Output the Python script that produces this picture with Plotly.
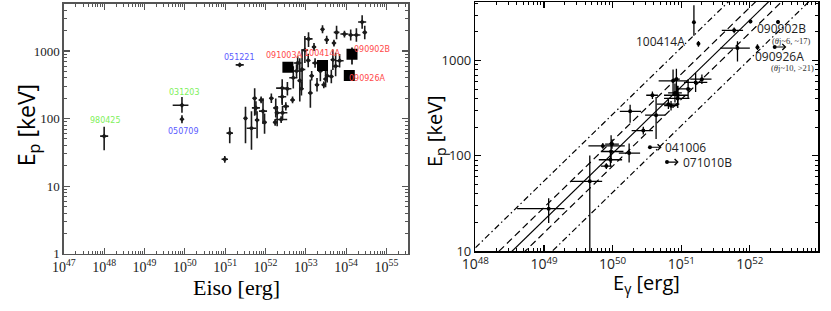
import numpy as np
import plotly.graph_objects as go

# ---------------- Left panel data (Eiso [erg], Ep [keV]) ----------------
eiso = [9.8e50, 1.3e51, 3.2e51, 4.5e51, 5.4e51, 5.8e51, 6.2e51, 7.8e51, 8.7e51, 9.5e51,
        1.4e52, 1.8e52, 1.95e52, 1.74e52, 2.6e52, 2.6e52, 2.65e52, 2.45e52, 3.2e52, 3.5e52,
        4.7e52, 4.9e52, 5.9e52, 6.3e52, 7.1e52, 7.8e52, 8.1e52, 9.5e52, 1.15e53, 1.17e53,
        1.4e53, 1.6e53, 1.3e53, 1.7e53, 1.9e53, 2.6e53, 3.3e53, 2.3e53, 2.8e53, 3.1e53,
        5.0e53, 5.8e53, 4.7e53, 5.5e53, 6.9e53, 9.1e53, 1.3e54, 1.8e54, 2.5e54, 2.9e54,
        3.4e53, 4.3e53]
ep_iso = [25, 61, 101, 72, 200, 144, 95, 189, 129, 88,
          200, 144, 122, 88, 283, 211, 122, 97, 152, 277,
          189, 403, 507, 667, 365, 277, 535, 1033, 727, 1515,
          430, 1150, 240, 667, 316, 2100, 1467, 507, 316, 385,
          1315, 1890, 744, 597, 720, 1786, 1730, 1730, 2690, 1890,
          430, 420]
# errors in dex
ep_lo_dex = [.05, .15, .37, .32, .26, .1, .27, .05, .19, .17,
             .07, .14, .2, .05, .25, .1, .1, .05, .06, .1,
             .05, .16, .1, .1, .31, .1, .3, .19, .1, .12,
             .07, .06, .22, .07, .1, .06, .06, .15, .05, .12,
             .05, .1, .15, .15, .1, .05, .08, .1, .1, .1,
             .1, .1]
ep_hi_dex = [.05, .086, .17, .25, .15, .1, .13, .05, .19, .13,
             .07, .14, .1, .05, .13, .1, .1, .05, .06, .1,
             .05, .17, .1, .1, .33, .1, .3, .21, .1, .1,
             .07, .06, .2, .07, .1, .06, .06, .15, .05, .12,
             .05, .1, .15, .2, .1, .05, .08, .1, .1, .1,
             .1, .1]
eiso_err_dex = [.08, .08, .03, .12, .05, .1, .05, .06, .1, .05,
                .05, .06, .06, .05, .15, .1, .12, .15, .08, .1,
                .05, .1, .15, .1, .05, .05, .08, .08, .05, .1,
                .05, .05, .05, .07, .05, .03, .05, .05, .05, .05,
                .03, .07, .05, .08, .1, .1, .05, .1, .1, .05,
                .05, .05]

# highlighted GRBs (left)
green_names = ["980425", "031203"]
green_eiso = [1e48, 8.5e49]
green_ep = [55, 158]
green_ep_lo = [.21, .11]
green_ep_hi = [.14, .12]
green_e_lo = [.1, .23]
green_e_hi = [.1, .16]

blue_names = ["050709", "051221"]
blue_eiso = [8.5e49, 2.3e51]
blue_ep = [98, 624]
blue_ep_err = [.06, .02]
blue_e_err = [.02, .1]

red_names = ["091003A", "100414A", "090902B", "090926A"]
red_eiso = [3.6e52, 2.6e53, 1.4e54, 1.2e54]
red_ep = [578, 611, 896, 435]
red_ep_lo = [0, 0, .15, 0]
red_ep_hi = [0, 0, .1, 0]

# ---------------- Right panel data (Egamma [erg], Ep [keV]) ----------------
egam = [1.17e49, 4.65e49, 7.2e49, 8.1e49, 9.3e49, 9.5e49, 9.8e49, 1.74e50, 1.8e50, 2.8e50,
        3.8e50, 4.3e50, 6.5e50, 7.1e50, 7.6e50, 8.1e50, 8.5e50, 8.9e50, 8.9e50, 1.26e51,
        1.62e51, 2.0e51, 1.53e51, 1.78e51, 5.9e51, 6.6e51, 1.02e52, 1.29e52, 2.57e52]
ep_g = [27.9, 54, 127, 78, 91, 111, 133, 107, 293, 184,
        432, 267, 348, 336, 612, 457, 637, 432, 400, 504,
        589, 637, 2518, 1496, 2075, 1352, 2570, 1380, 2540]
eg_lo_dex = [.46, .28, .21, .08, .17, .15, .1, .15, .15, .17,
             .09, .16, .17, .1, .21, .1, .05, .2, .2, .15,
             .17, .17, 0, .02, .18, .25, .02, .02, .02]
eg_hi_dex = [.23, .18, .32, .08, .17, .18, .1, .16, .16, .14,
             .08, .13, .16, .1, .22, .1, .05, .15, .17, .05,
             .17, .14, 0, .02, .13, .18, .02, .02, .02]
epg_lo_dex = [.15, .9, .03, .03, .07, .12, .05, .1, .12, .04,
              .04, .25, .05, .05, .15, .1, .17, .1, .1, .1,
              .1, .05, .14, .03, .03, .14, .02, .03, .02]
epg_hi_dex = [.11, .27, .03, .03, .07, .17, .05, .1, .07, .04,
              .04, .19, .05, .05, .12, .1, .11, .1, .13, .1,
              .1, .05, .18, .03, .03, .07, .02, .03, .02]

# lower limits on Egamma
lim_names = ["041006", "071010B", "090926A"]
lim_eg = [3.5e50, 6.2e50, 2.3e52]
lim_ep = [123, 86, 1387]
lim_arrow_dex = 0.17

# Ghirlanda-type relation: Ep = norm * (Eg/1e50)^slope, with scatter bands (dex)
rel_norm = 106.0
rel_slope = 0.70
band_inner = 0.133
band_outer = 0.41

# ---------------- helpers ----------------
def errs(vals, lo, hi):
    v = np.array(vals, float)
    return (v * (10 ** np.array(hi) - 1)).tolist(), (v * (1 - 10 ** -np.array(lo))).tolist()

fig = go.Figure()

LEFT_C = "#1a1a1a"

def left_trace(x, y, elo, ehi, xlo, xhi):
    eyp, eym = errs(y, elo, ehi)
    exp_, exm = errs(x, xlo, xhi)
    return go.Scatter(x=x, y=y, mode="markers", xaxis="x", yaxis="y",
                      marker=dict(color=LEFT_C, size=4, symbol="diamond"),
                      error_y=dict(type="data", array=eyp, arrayminus=eym, thickness=1.6, width=0, color=LEFT_C),
                      error_x=dict(type="data", array=exp_, arrayminus=exm, thickness=1.6, width=0, color=LEFT_C),
                      showlegend=False)

fig.add_trace(left_trace(eiso, ep_iso, ep_lo_dex, ep_hi_dex, eiso_err_dex, eiso_err_dex))
fig.add_trace(left_trace(green_eiso, green_ep, green_ep_lo, green_ep_hi, green_e_lo, green_e_hi))
fig.add_trace(left_trace(blue_eiso, blue_ep, blue_ep_err, blue_ep_err, blue_e_err, blue_e_err))

eyp, eym = errs(red_ep, red_ep_lo, red_ep_hi)
fig.add_trace(go.Scatter(x=red_eiso, y=red_ep, mode="markers", xaxis="x", yaxis="y",
                         marker=dict(color="black", size=11, symbol="square"),
                         error_y=dict(type="data", array=eyp, arrayminus=eym, thickness=1.6, width=0, color="black"),
                         showlegend=False))

# right relation lines
xr = np.array([1e48, 1e53])
for off, dash in [(0, "solid"), (band_inner, "7px,4px"), (-band_inner, "7px,4px"),
                  (band_outer, "6px,3px,1.5px,3px"), (-band_outer, "6px,3px,1.5px,3px")]:
    yr = rel_norm * (xr / 1e50) ** rel_slope * 10 ** off
    fig.add_trace(go.Scatter(x=xr, y=yr, mode="lines", xaxis="x2", yaxis="y2",
                             line=dict(color="black", width=1.2, dash=dash),
                             showlegend=False, hoverinfo="skip"))

# right points
eyp, eym = errs(ep_g, epg_lo_dex, epg_hi_dex)
exp_, exm = errs(egam, eg_lo_dex, eg_hi_dex)
fig.add_trace(go.Scatter(x=egam, y=ep_g, mode="markers", xaxis="x2", yaxis="y2",
                         marker=dict(color="black", size=4),
                         error_y=dict(type="data", array=eyp, arrayminus=eym, thickness=1.3, width=0, color="black"),
                         error_x=dict(type="data", array=exp_, arrayminus=exm, thickness=1.3, width=0, color="black"),
                         showlegend=False))
fig.add_trace(go.Scatter(x=lim_eg, y=lim_ep, mode="markers", xaxis="x2", yaxis="y2",
                         marker=dict(color="black", size=4), showlegend=False))

annotations = []
for xe, ye in zip(lim_eg, lim_ep):
    annotations.append(dict(x=np.log10(xe) + lim_arrow_dex, y=np.log10(ye), ax=np.log10(xe), ay=np.log10(ye),
                            xref="x2", yref="y2", axref="x2", ayref="y2", text="", showarrow=True,
                            arrowhead=4, arrowsize=1, arrowwidth=1.2, arrowcolor="black"))

left_labels = [("980425", 48.03, 1.967, "#7ef05a"), ("031203", 49.98, 2.381, "#7ef05a"),
               ("050709", 49.97, 1.81, "#5b5bff"), ("051221", 51.36, 2.9, "#5b5bff"),
               ("091003A", 52.46, 2.93, "#ff4a4a"), ("100414A", 53.42, 2.957, "#ff4a4a"),
               ("090902B", 54.65, 3.024, "#ff4a4a"), ("090926A", 54.54, 2.596, "#ff4a4a")]
for t, lx, ly, c in left_labels:
    annotations.append(dict(x=lx, y=ly, xref="x", yref="y", text=t, showarrow=False,
                            xanchor="center", yanchor="middle",
                            font=dict(family="DejaVu Sans", size=8, color=c)))

rfont = dict(family="Open Sans", size=12, color="#222")
sfont = dict(family="Liberation Serif", size=8.5, color="#333")
right_labels = [("100414A", 51.09, 3.202, "right", rfont),
                ("090902B", 52.07, 3.335, "left", rfont),
                ("(<i>θ</i>j~6, ~17)", 52.29, 3.21, "left", sfont),
                ("090926A", 52.05, 3.045, "left", rfont),
                ("(<i>θ</i>j~10, >21)", 52.28, 2.918, "left", sfont),
                ("041006", 50.74, 2.089, "left", rfont),
                ("071010B", 50.99, 1.934, "left", rfont)]
for t, lx, ly, xa, f in right_labels:
    annotations.append(dict(x=lx, y=ly, xref="x2", yref="y2", text=t, showarrow=False,
                            xanchor=xa, yanchor="middle", font=f))

# axis titles
titles = [("Eiso [erg]", 226, 296, 0, dict(family="Liberation Serif", size=22, color="black")),
          ("E<sub>p</sub> [keV]", 14, 128, -90, dict(family="Open Sans", size=23, color="black")),
          ("E<sub>γ</sub> [erg]", 643, 292, 0, dict(family="Open Sans", size=20, color="black")),
          ("E<sub>p</sub> [keV]", 428, 134, -90, dict(family="Open Sans", size=20, color="black"))]
for t, px, py, ang, f in titles:
    annotations.append(dict(x=px / 831, y=1 - py / 311, xref="paper", yref="paper", text=t,
                            showarrow=False, textangle=ang, xanchor="center", yanchor="middle", font=f))

left_xt = [10.0 ** k for k in range(47, 56)]
left_xt_text = [f"10<sup>{k}</sup>" for k in range(47, 56)]
left_yt = [1, 10, 100, 1000]
left_yt_text = ["1", "10", "100", "1000"]
right_xt = [10.0 ** k for k in range(48, 54)]
right_xt_text = [f"10<sup>{k}</sup>" for k in range(48, 54)]
right_yt = [10, 100, 1000]
right_yt_text = ["10", "100", "1000"]

def ax(common_color, **kw):
    d = dict(type="log", showgrid=False, zeroline=False, showline=True, mirror="allticks",
             linecolor=common_color, linewidth=1.5, ticks="inside", ticklen=6, tickwidth=1.2,
             tickcolor=common_color,
             minor=dict(ticks="inside", ticklen=3, tickwidth=1, tickcolor=common_color, dtick="D1", showgrid=False))
    d.update(kw)
    return d

fig.update_layout(
    width=831, height=311, margin=dict(l=0, r=0, t=0, b=0),
    plot_bgcolor="white", paper_bgcolor="white",
    xaxis=ax("#555", domain=[0.0610, 0.4825], range=[47, 55.54], anchor="y",
             tickvals=left_xt, ticktext=left_xt_text,
             tickfont=dict(family="Liberation Serif", size=14, color="#222")),
    yaxis=ax("#555", domain=[0.161, 0.994], range=[0, 3.7], anchor="x",
             tickvals=left_yt, ticktext=left_yt_text,
             tickfont=dict(family="Liberation Serif", size=13, color="#222")),
    xaxis2=ax("black", domain=[0.5647, 0.9847], range=[48, 53], anchor="y2",
              tickvals=right_xt, ticktext=right_xt_text,
              tickfont=dict(family="Open Sans", size=14, color="#222")),
    yaxis2=ax("black", domain=[0.1695, 1.0], range=[1, 3.614], anchor="x2",
              tickvals=right_yt, ticktext=right_yt_text,
              tickfont=dict(family="Open Sans", size=13, color="#222")),
    annotations=annotations,
)

fig.write_html(
    "out.html",
    config={"displayModeBar": False, "staticPlot": True},
    post_script=("document.documentElement.style.margin='0';document.documentElement.style.padding='0';"
                 "document.documentElement.style.overflow='hidden';"
                 "document.body.style.margin='0';document.body.style.padding='0';"
                 "document.body.style.overflow='hidden';"),
)
